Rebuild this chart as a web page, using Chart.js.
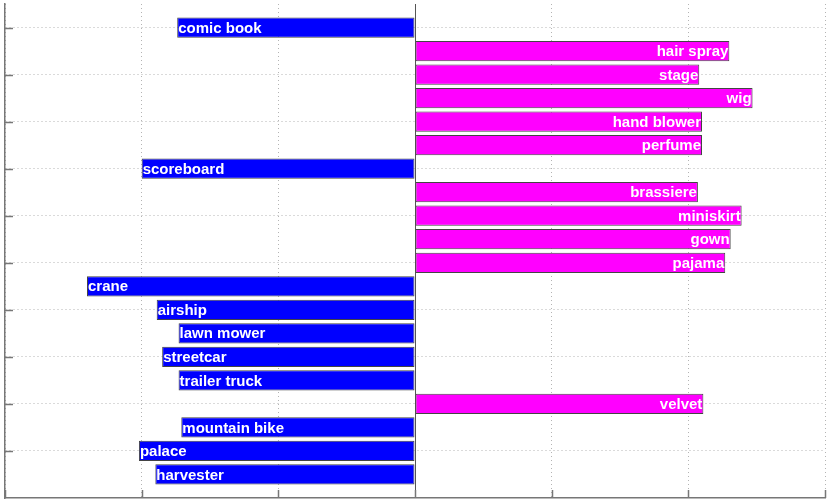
<!DOCTYPE html>
<html>
<head>
<meta charset="utf-8">
<script src="https://cdn.jsdelivr.net/npm/chart.js@4/dist/chart.umd.min.js"></script>
<style>
  html, body { margin: 0; padding: 0; background: #fff; }
  #wrap { width: 830px; height: 503px; }
</style>
</head>
<body>
<div id="wrap"><canvas id="chart" width="830" height="503"></canvas></div>
<script>
// Data (top row first)
const categories = ['comic book', 'hair spray', 'stage', 'wig', 'hand blower', 'perfume', 'scoreboard',
  'brassiere', 'miniskirt', 'gown', 'pajama', 'crane', 'airship', 'lawn mower', 'streetcar',
  'trailer truck', 'velvet', 'mountain bike', 'palace', 'harvester'];
const values = [-1.74, 2.30, 2.08, 2.47, 2.10, 2.10, -2.00,
  2.07, 2.39, 2.31, 2.27, -2.40, -1.89, -1.73, -1.85,
  -1.73, 2.11, -1.71, -2.02, -1.90];
const xTicks = [-3, -2, -1, 0, 1, 2, 3];
const yTicks = [1, 3, 5, 7, 9, 11, 13, 15, 17, 19];

const NEG = '#0000ff';
const POS = '#ff00ff';
const GRID = '#b4b4b4';
const AXIS = '#777777';

// Build the points: one row per category
const points = values.map((v, i) => ({ x: v, y: i + 1 }));

// Labels written inside each bar
const barLabels = {
  id: 'barLabels',
  afterDatasetsDraw(chart) {
    const ctx = chart.ctx;
    const meta = chart.getDatasetMeta(0);
    ctx.save();
    ctx.font = 'bold 15px "Liberation Sans", Arial, sans-serif';
    ctx.fillStyle = '#ffffff';
    ctx.textBaseline = 'middle';
    meta.data.forEach((bar, i) => {
      if (values[i] < 0) {
        ctx.textAlign = 'left';
        ctx.fillText(categories[i], bar.x + 1, bar.y + 1);
      } else {
        ctx.textAlign = 'right';
        ctx.fillText(categories[i], bar.x - 1, bar.y + 1);
      }
    });
    ctx.restore();
  }
};

// Short tick marks pointing into the plot
const innerTicks = {
  id: 'innerTicks',
  afterDraw(chart) {
    const { ctx, chartArea, scales } = chart;
    ctx.save();
    ctx.strokeStyle = AXIS;
    ctx.lineWidth = 1.5;
    ctx.beginPath();
    yTicks.forEach(v => {
      const y = Math.round(scales.y.getPixelForValue(v)) + 0.5;
      ctx.moveTo(chartArea.left, y);
      ctx.lineTo(chartArea.left + 8, y);
    });
    xTicks.forEach(v => {
      const x = Math.round(scales.x.getPixelForValue(v)) + 0.5;
      ctx.moveTo(x, chartArea.bottom);
      ctx.lineTo(x, chartArea.bottom - 8);
    });
    ctx.stroke();
    ctx.restore();
  }
};

new Chart(document.getElementById('chart'), {
  type: 'bar',
  data: {
    datasets: [{
      data: points,
      backgroundColor: values.map(v => v < 0 ? NEG : POS),
      borderColor: '#444444',
      borderWidth: 1,
      borderSkipped: false,
      barPercentage: 0.86,
      categoryPercentage: 1
    }]
  },
  options: {
    indexAxis: 'y',
    responsive: false,
    animation: false,
    layout: { padding: { left: 5, right: 5, top: 4, bottom: 5 } },
    plugins: {
      legend: { display: false },
      tooltip: { enabled: false }
    },
    scales: {
      x: {
        type: 'linear',
        min: -3,
        max: 3,
        afterBuildTicks: s => { s.ticks = xTicks.map(v => ({ value: v })); },
        ticks: { display: false },
        grid: {
          drawTicks: false,
          color: c => c.tick && c.tick.value === 0 ? '#555555' : GRID,
          lineWidth: 1
        },
        border: {
          color: AXIS,
          width: 1.5,
          dash: c => c.tick && c.tick.value === 0 ? [] : [1, 3]
        }
      },
      y: {
        type: 'linear',
        reverse: true,
        offset: false,
        min: 0,
        max: 21,
        afterBuildTicks: s => { s.ticks = yTicks.map(v => ({ value: v })); },
        ticks: { display: false },
        grid: { drawTicks: false, offset: false, color: GRID, lineWidth: 1 },
        border: { color: AXIS, width: 1.5, dash: [1, 3] }
      }
    }
  },
  plugins: [barLabels, innerTicks]
});
</script>
</body>
</html>
